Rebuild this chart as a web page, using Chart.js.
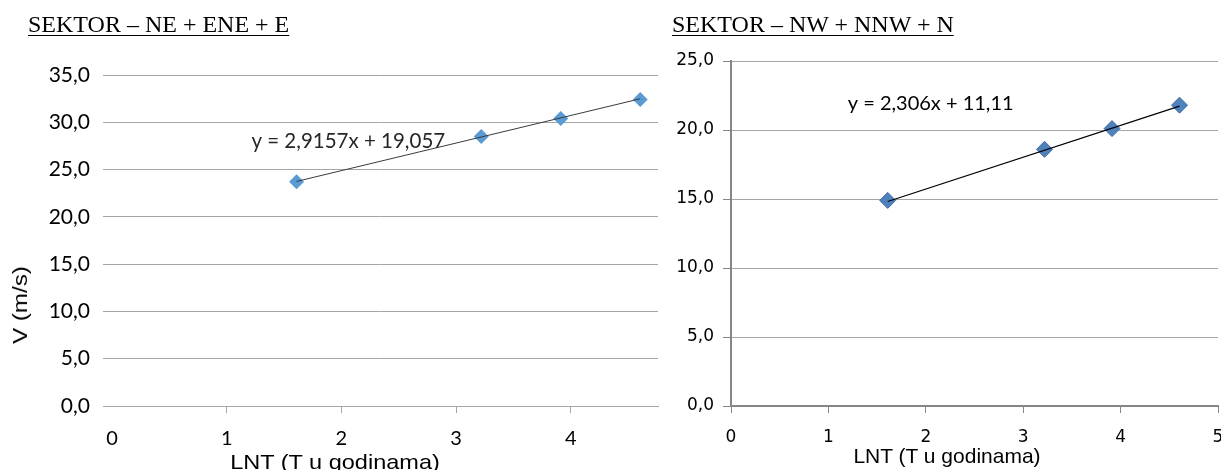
<!DOCTYPE html>
<html>
<head>
<meta charset="utf-8">
<script src="https://cdn.jsdelivr.net/npm/chart.js@4.4.1/dist/chart.umd.min.js"></script>
<style>
  html, body { margin: 0; padding: 0; background: #fff; }
  #wrap { position: relative; width: 1221px; height: 470px; overflow: hidden; background: #fff; }
  .panel { position: absolute; top: 0; height: 470px; }
  .title { position: absolute; font-family: "Liberation Serif", "Times New Roman", serif; font-size: 24px;
           text-decoration: underline; text-decoration-thickness: 1px; text-underline-offset: 3px; color: #000; white-space: nowrap; }
  .axt { position: absolute; font-family: "Liberation Sans", Arial, sans-serif; color: #000; white-space: nowrap; }
</style>
</head>
<body>
<div id="wrap">
  <div class="panel" style="left:0;width:660px"><canvas id="east" width="660" height="470"></canvas></div>
  <div class="panel" style="left:660px;width:561px"><canvas id="north" width="561" height="470"></canvas></div>

  <div class="title" style="left:28px;top:11px">SEKTOR – NE + ENE + E</div>
  <div class="title" style="left:672px;top:11px">SEKTOR – NW + NNW + N</div>

  <div class="axt" style="left:20px;top:305px;font-size:21px;transform:translate(-50%,-50%) rotate(-90deg) scaleX(1.15);">V (m/s)</div>
  <div class="axt" style="left:335px;top:462px;font-size:21px;transform:translate(-50%,-50%) scaleX(1.12);">LNT (T u godinama)</div>
  <div class="axt" style="left:947px;top:456px;font-size:21px;transform:translate(-50%,-50%);">LNT (T u godinama)</div>
</div>

<script>
// Return period as ln(T), T = 5, 25, 50, 100 years
const lnt = [1.609, 3.219, 3.912, 4.605];

// Wind speed V (m/s) per sector
const vEast  = [23.7, 28.5, 30.4, 32.4];   // NE + ENE + E
const vNorth = [14.9, 18.6, 20.1, 21.8];   // NW + NNW + N

// Linear trend coefficients shown on the charts
const fitEast  = { slope: 2.9157, intercept: 19.057 };
const fitNorth = { slope: 2.306,  intercept: 11.11 };

const eqEast  = 'y = 2,9157x + 19,057';
const eqNorth = 'y = 2,306x + 11,11';

// Axis ranges and tick values
const xTicksEast  = [0, 1, 2, 3, 4];
const xTicksNorth = [0, 1, 2, 3, 4, 5];
const yMaxEast = 35, yMaxNorth = 25, yStep = 5;

const toPoints = (xs, ys) => xs.map((x, i) => ({ x, y: ys[i] }));
const trend = (xs, f) => [xs[0], xs[xs.length - 1]].map(x => ({ x, y: f.slope * x + f.intercept }));
const fmt = v => v.toFixed(1).replace('.', ',');

// Draws the trend equation at a position given in data units
const equationLabel = {
  id: 'equationLabel',
  afterDatasetsDraw(chart, args, o) {
    const { ctx, scales: { x, y } } = chart;
    ctx.save();
    ctx.font = o.font;
    ctx.fillStyle = o.color;
    ctx.textAlign = 'center';
    ctx.textBaseline = 'middle';
    ctx.fillText(o.text, x.getPixelForValue(o.at[0]), y.getPixelForValue(o.at[1]));
    ctx.restore();
  }
};

function fixWidth(w) { return s => { s.width = w; s.paddingTop = 0; s.paddingBottom = 0; }; }
function fixHeight(h) { return s => { s.height = h; s.paddingLeft = 0; s.paddingRight = 0; }; }

// NE + ENE + E
new Chart(document.getElementById('east'), {
  type: 'scatter',
  data: {
    datasets: [
      { data: toPoints(lnt, vEast), pointStyle: 'rectRot', pointRadius: 7.5, pointHoverRadius: 7.5,
        backgroundColor: '#5B9BD5', borderColor: '#5B9BD5', borderWidth: 0, order: 2 },
      { type: 'line', data: trend(lnt, fitEast), borderColor: '#3a3a3a', borderWidth: 1, pointRadius: 0, fill: false, order: 1 }
    ]
  },
  options: {
    responsive: false, animation: false, devicePixelRatio: 1,
    layout: { autoPadding: false, padding: { top: 75, right: 2, bottom: 0, left: 0 } },
    plugins: {
      legend: { display: false }, tooltip: { enabled: false },
      equationLabel: { text: eqEast, at: [2.06, 28.0], font: '20.5px Lato', color: '#262626' }
    },
    scales: {
      x: {
        type: 'linear', min: -0.0785, max: 4.76,
        afterBuildTicks: s => { s.ticks = xTicksEast.map(v => ({ value: v })); },
        afterFit: fixHeight(64),
        grid: { drawOnChartArea: false, drawTicks: true, tickLength: 7,
                color: c => (c.tick && c.tick.value === 0) ? 'rgba(0,0,0,0)' : '#A6A6A6' },
        border: { display: true, color: '#A6A6A6', width: 1 },
        ticks: { padding: 14, color: '#000', font: { family: 'Lato', size: 20 }, callback: v => String(v) }
      },
      y: {
        min: 0, max: yMaxEast,
        afterFit: fixWidth(103),
        grid: { color: '#A6A6A6', drawTicks: false },
        border: { display: false },
        ticks: { stepSize: yStep, padding: 13, color: '#000', font: { family: 'Lato', size: 21 }, callback: fmt }
      }
    }
  },
  plugins: [equationLabel]
});

// NW + NNW + N
new Chart(document.getElementById('north'), {
  type: 'scatter',
  data: {
    datasets: [
      { data: toPoints(lnt, vNorth), pointStyle: 'rectRot', pointRadius: 8, pointHoverRadius: 8,
        backgroundColor: '#4F81BD', borderColor: '#3D6BA3', borderWidth: 1, order: 2 },
      { type: 'line', data: trend(lnt, fitNorth), borderColor: '#000', borderWidth: 1.2, pointRadius: 0, fill: false, order: 1 }
    ]
  },
  options: {
    responsive: false, animation: false, devicePixelRatio: 1,
    layout: { autoPadding: false, padding: { top: 61, right: 3, bottom: 0, left: 0 } },
    plugins: {
      legend: { display: false }, tooltip: { enabled: false },
      equationLabel: { text: eqNorth, at: [2.05, 21.9], font: '20px Lato', color: '#000' }
    },
    scales: {
      x: {
        type: 'linear', min: 0, max: 5,
        afterBuildTicks: s => { s.ticks = xTicksNorth.map(v => ({ value: v })); },
        afterFit: fixHeight(64),
        grid: { drawOnChartArea: false, drawTicks: true, tickLength: 7, color: '#868686' },
        border: { display: true, color: '#868686', width: 2 },
        ticks: { padding: 14, color: '#000', font: { family: '"DejaVu Sans"', size: 17 }, callback: v => String(v) }
      },
      y: {
        min: 0, max: yMaxNorth,
        afterFit: fixWidth(71),
        grid: { color: '#A6A6A6', tickColor: '#868686', drawTicks: true, tickLength: 8 },
        border: { display: true, color: '#868686', width: 2 },
        ticks: { stepSize: yStep, padding: 9, color: '#000', font: { family: '"DejaVu Sans"', size: 17 }, callback: fmt }
      }
    }
  },
  plugins: [equationLabel]
});
</script>
</body>
</html>
